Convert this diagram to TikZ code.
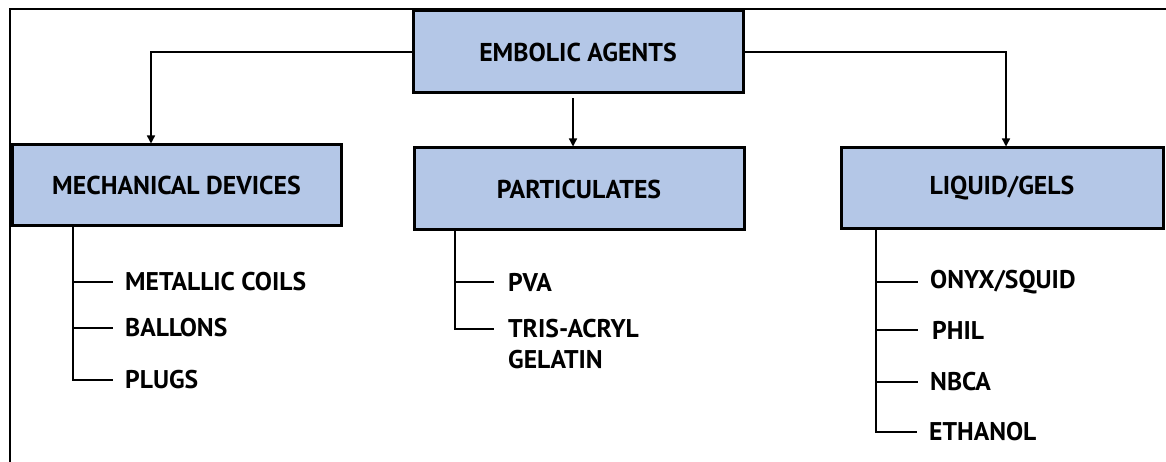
\documentclass[tikz,border=0pt]{standalone}
\usepackage{fontspec}
\setmainfont{PT Sans}
\usetikzlibrary{arrows.meta,calc}
\definecolor{boxblue}{HTML}{B4C7E7}
\tikzset{
  catbox/.style={draw=black, line width=3pt, fill=boxblue, inner sep=0pt,
    font=\fontsize{25.8}{30}\selectfont\bfseries},
  item/.style={anchor=west, inner sep=0pt,
    font=\fontsize{25.6}{30}\selectfont\bfseries},
  link/.style={line width=1.4pt, -{Triangle[length=8pt,width=8pt]}},
  branch/.style={line width=2pt},
  frame/.style={line width=1.5pt}
}
\begin{document}
\begin{tikzpicture}[x=1pt,y=-1pt]
\useasboundingbox (0,0) rectangle (1166,462);
% outer frame (left and top edges only)
\draw[frame] (10,462) -- (10,9) -- (1166,9);

% category boxes
\node[catbox, minimum width=330pt, minimum height=82pt] (emb) at (578,52) {EMBOLIC AGENTS};
\node[catbox, minimum width=329pt, minimum height=81pt] (mech) at (176.5,185.5) {MECHANICAL DEVICES};
\node[catbox, minimum width=330pt, minimum height=82pt] (part) at (579,189) {PARTICULATES};
\node[catbox, minimum width=322pt, minimum height=81pt] (liq) at (1002,188.5) {LIQUID/GELS};

% arrows from the root box
\coordinate (mechin) at (151,0);
\coordinate (partin) at (573,0);
\coordinate (liqin) at (1006,0);
\draw[link] (emb.west) -| (mechin |- mech.north);
\draw[link] (partin |- emb.south) ++(0,4) -- (partin |- part.north);
\draw[link] (emb.east) -| (liqin |- liq.north);

% mechanical devices
\node[item] (coils) at (125,282) {METALLIC COILS};
\node[item] (ballons) at (125,328) {BALLONS};
\node[item] (plugs) at (125,380) {PLUGS};
\coordinate (mtrunk) at (73,0);
\draw[branch] (mtrunk |- mech.south) -- (mtrunk |- plugs.west) -- ([xshift=-12pt]plugs.west);
\draw[branch] (mtrunk |- coils.west) -- ([xshift=-12pt]coils.west);
\draw[branch] (mtrunk |- ballons.west) -- ([xshift=-12pt]ballons.west);

% particulates
\node[item] (pva) at (508,282) {PVA};
\node[item] (tris) at (508,329) {TRIS-ACRYL};
\node[item] (gel) at (508,360) {GELATIN};
\coordinate (ptrunk) at (455,0);
\draw[branch] (ptrunk |- part.south) -- (ptrunk |- tris.west) -- ([xshift=-14pt]tris.west);
\draw[branch] (ptrunk |- pva.west) -- ([xshift=-14pt]pva.west);

% liquid/gels
\node[item] (onyx) at (930,282) {ONYX/SQUID};
\node[item] (phil) at (932,330) {PHIL};
\node[item] (nbca) at (930,382) {NBCA};
\node[item] (eth) at (929,432) {ETHANOL};
\coordinate (ltrunk) at (876,0);
\draw[branch] (ltrunk |- liq.south) -- (ltrunk |- eth.west) -- ([xshift=-12pt]eth.west);
\draw[branch] (ltrunk |- onyx.west) -- ([xshift=-12pt]onyx.west);
\draw[branch] (ltrunk |- phil.west) -- ([xshift=-14pt]phil.west);
\draw[branch] (ltrunk |- nbca.west) -- ([xshift=-12pt]nbca.west);
\end{tikzpicture}
\end{document}
